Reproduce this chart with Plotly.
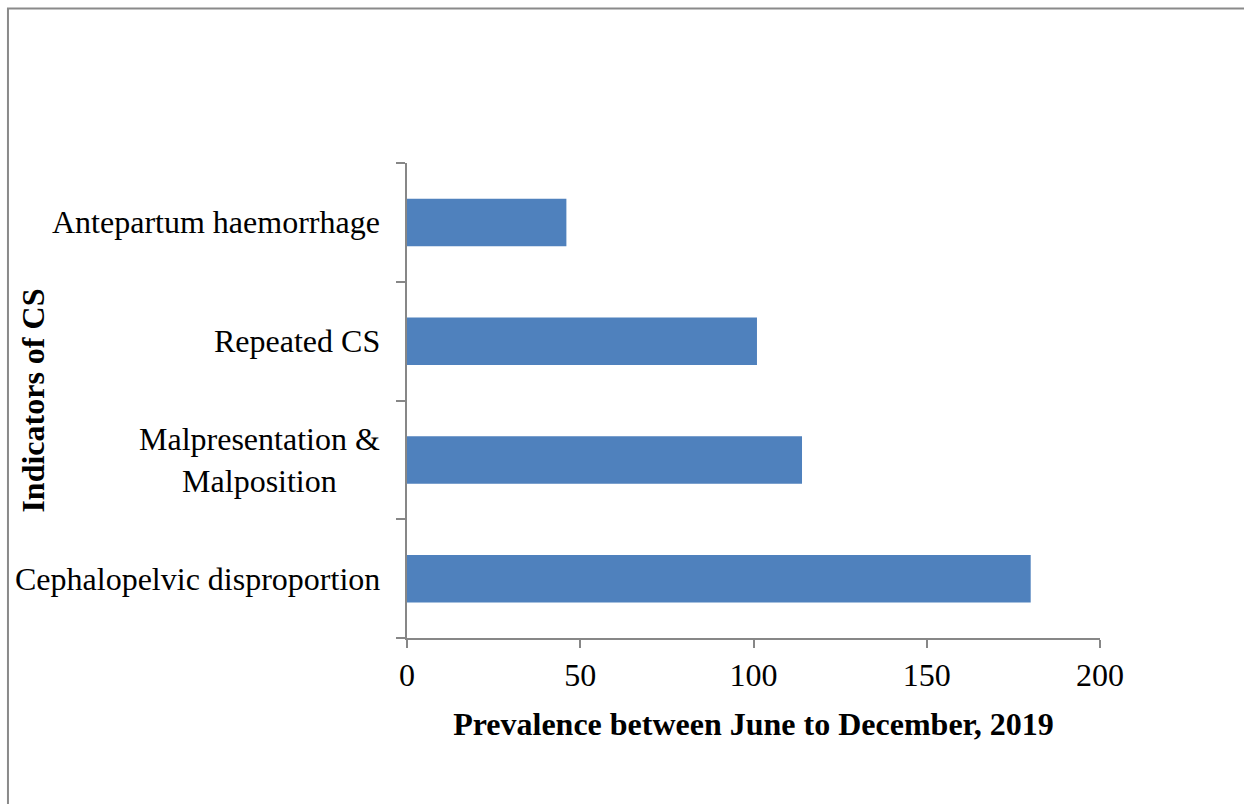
import plotly.graph_objects as go

# Indications for caesarean section, counts over June-December 2019
categories = [
    "Cephalopelvic disproportion",
    "Malpresentation &<br>Malposition",
    "Repeated CS",
    "Antepartum haemorrhage",
]
prevalence = [180, 114, 101, 46]

x_ticks = [0, 50, 100, 150, 200]
x_title = "Prevalence between June to December, 2019"
y_title = "Indicators of CS"

FONT = "Liberation Serif, Times New Roman, serif"
FS = 32
AXIS_GREY = "#878787"
BAR_BLUE = "#4F81BD"

fig = go.Figure(
    go.Bar(
        x=prevalence,
        y=categories,
        orientation="h",
        marker=dict(color=BAR_BLUE, line=dict(width=0)),
        hoverinfo="x+y",
    )
)

# category labels, centred per line as multi-line text
annotations = [
    dict(
        x=-0.036, xref="paper", y=c, yref="y",
        text=c, showarrow=False, xanchor="right", yanchor="middle",
        align="center", font=dict(family=FONT, size=FS, color="black"),
    )
    for c in categories
]
annotations.append(
    dict(
        x=-0.541, xref="paper", y=0.5, yref="paper",
        text="<b>" + y_title + "</b>", showarrow=False, textangle=-90,
        xanchor="center", yanchor="middle",
        font=dict(family=FONT, size=FS, color="black"),
    )
)

fig.update_layout(
    width=1244,
    height=804,
    margin=dict(l=407, r=144, t=163, b=166),
    paper_bgcolor="white",
    plot_bgcolor="white",
    showlegend=False,
    bargap=0.6,
    font=dict(family=FONT, size=FS, color="black"),
    annotations=annotations,
    shapes=[
        dict(
            type="rect", xref="paper", yref="paper",
            x0=-0.5758, x1=1.35, y0=-0.45, y1=1.3253,
            line=dict(color="#8a8a8a", width=2), layer="below",
        )
    ],
)

fig.update_xaxes(
    range=[0, 200],
    tickvals=x_ticks,
    ticks="outside",
    ticklen=8,
    tickwidth=2,
    tickcolor=AXIS_GREY,
    showline=True,
    linecolor=AXIS_GREY,
    linewidth=2,
    showgrid=False,
    zeroline=False,
    tickfont=dict(family=FONT, size=FS, color="black"),
    title=dict(
        text="<b>" + x_title + "</b>",
        font=dict(family=FONT, size=FS, color="black"),
        standoff=20,
    ),
)

fig.update_yaxes(
    type="category",
    categoryorder="array",
    categoryarray=categories,
    tickson="boundaries",
    ticks="outside",
    ticklen=9,
    tickwidth=2,
    tickcolor=AXIS_GREY,
    showline=True,
    linecolor=AXIS_GREY,
    linewidth=2,
    showgrid=False,
    zeroline=False,
    showticklabels=False,
)

fig.write_html("out.html")
